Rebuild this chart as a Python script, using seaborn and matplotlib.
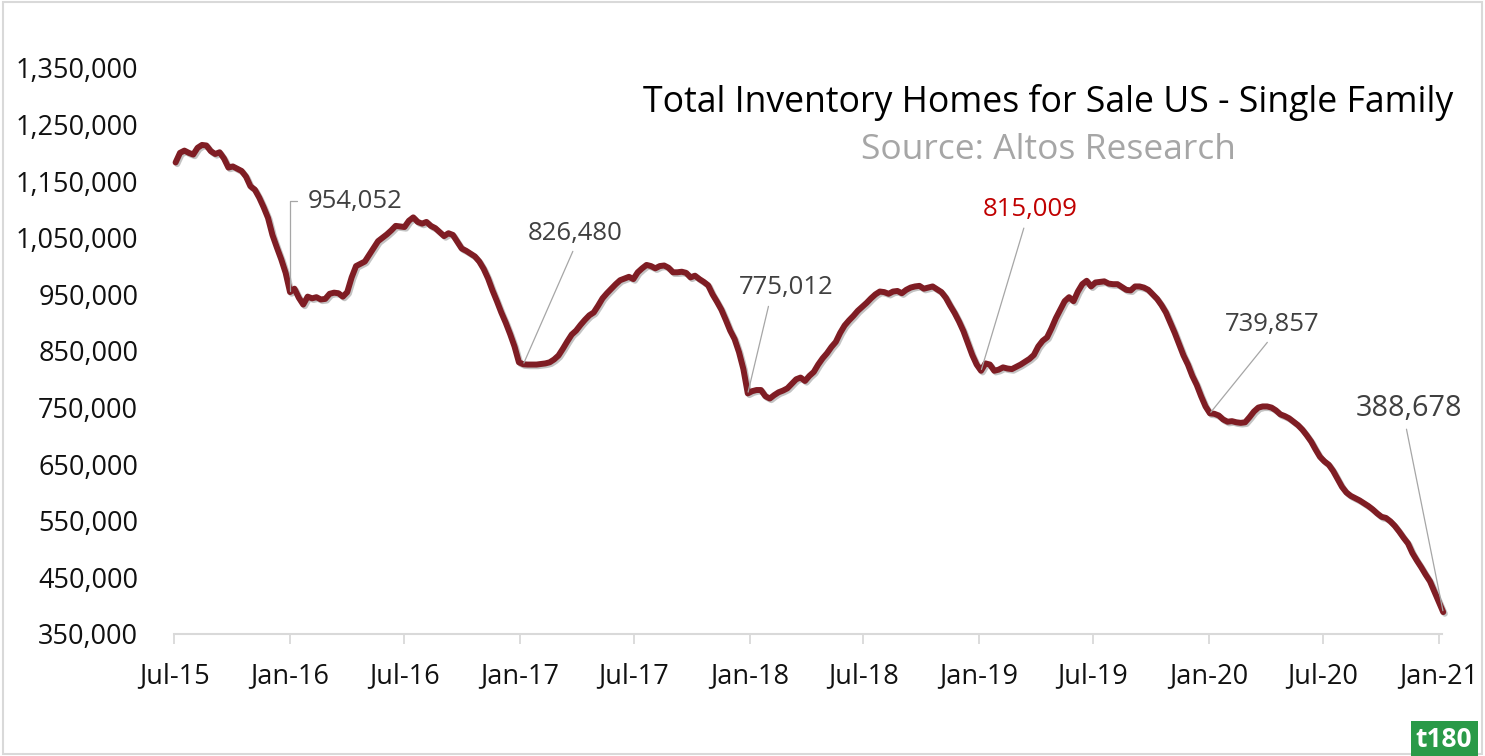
import pandas as pd
import numpy as np
import matplotlib.pyplot as plt
import matplotlib.patheffects as pe
from matplotlib.patches import Rectangle
from matplotlib.ticker import FuncFormatter
import seaborn as sns

# weekly inventory, single family homes (thousands), first week of Jul 2015 onwards
inventory_k = [
    1183, 1200, 1204, 1200, 1197, 1209, 1214, 1213, 1203, 1198, 1201, 1190, 1174,
    1176, 1172, 1168, 1158, 1141, 1135, 1121, 1104, 1085, 1055, 1033, 1012, 988,
    954.052, 960, 944, 932, 946, 943, 945, 941, 942, 951, 953, 952, 946, 954, 980,
    1000, 1004, 1008, 1020, 1032, 1044, 1050, 1056, 1063, 1071, 1070, 1069, 1080,
    1086, 1078, 1075, 1078, 1071, 1067, 1060, 1053, 1058, 1055, 1043, 1031, 1027,
    1022, 1017, 1008, 995, 978, 957, 938, 918, 900, 880, 858, 830,
    826.480, 826, 826, 826, 827, 828, 830, 835, 842, 854, 867, 879, 886, 896, 905,
    913, 918, 930, 943, 952, 960, 968, 975, 978, 981, 977, 989, 996, 1002, 1000,
    996, 1000, 1001, 997, 989, 989, 990, 988, 980, 983, 977, 972, 966, 950, 937,
    923, 905, 886, 871, 848, 818,
    775.012, 779, 781, 781, 770, 766, 772, 777, 780, 784, 792, 800, 803, 797, 806,
    813, 826, 837, 846, 857, 866, 882, 895, 904, 912, 921, 928, 935, 943, 950, 955,
    954, 951, 955, 956, 952, 958, 962, 964, 965, 960, 962, 964, 959, 954, 944, 930,
    917, 902, 885, 864, 843, 826,
    815.009, 828, 826, 815, 817, 821, 819, 818, 822, 826, 831, 836, 843, 858, 868,
    874, 890, 908, 923, 938, 945, 938, 955, 968, 974, 964, 971, 972, 973, 969, 968,
    968, 963, 958, 957, 964, 964, 962, 958, 950, 942, 931, 918, 900, 882, 862, 842,
    826, 806, 790, 770, 752,
    739.857, 739, 736, 729, 725, 726, 724, 723, 724, 733, 743, 750, 752, 752, 750,
    745, 738, 735, 731, 725, 719, 711, 701, 690, 676, 663, 655, 649, 638, 624, 610,
    600, 594, 590, 586, 581, 576, 570, 563, 557, 555, 549, 541, 531, 520, 510, 493,
    480, 468, 455, 443, 425, 407, 388.678,
]
start_week = "2015-07-03"

tick_dates = ["2015-07-01", "2016-01-01", "2016-07-01", "2017-01-01", "2017-07-01",
              "2018-01-01", "2018-07-01", "2019-01-01", "2019-07-01", "2020-01-01",
              "2020-07-01", "2021-01-01"]
tick_labels = ["Jul-15", "Jan-16", "Jul-16", "Jan-17", "Jul-17", "Jan-18",
               "Jul-18", "Jan-19", "Jul-19", "Jan-20", "Jul-20", "Jan-21"]
y_ticks = [350000, 450000, 550000, 650000, 750000, 850000, 950000,
           1050000, 1150000, 1250000, 1350000]

# labelled points: data index, colour
callouts = [26, 79, 130, 183, 235, 288]
callout_colors = ["#404040", "#404040", "#404040", "#c00000", "#404040", "#404040"]

df = pd.DataFrame({
    "week": pd.date_range(start_week, periods=len(inventory_k), freq="7D"),
    "homes": np.array(inventory_k) * 1000,
})

sns.set_theme(style="white")
plt.rcParams["font.family"] = ["Open Sans", "DejaVu Sans"]

fig = plt.figure(figsize=(14.85, 7.56), dpi=100)
ax = fig.add_axes([0.1174, 0.1614, 0.8536, 0.7487])

line_fx = [pe.SimpleLineShadow(offset=(1.2, -1.2), shadow_color="#555555", alpha=0.35),
           pe.Normal()]
sns.lineplot(data=df, x="week", y="homes", ax=ax, color="#7f1d24", linewidth=4.3,
             path_effects=line_fx, clip_on=False)

ax.set_xlim(pd.Timestamp("2015-07-01"), pd.Timestamp("2021-01-06"))
ax.set_ylim(350000, 1350000)
ax.set_xticks(pd.to_datetime(tick_dates))
ax.set_xticklabels(tick_labels)
ax.set_yticks(y_ticks)
ax.yaxis.set_major_formatter(FuncFormatter(lambda v, p: f"{v:,.0f}"))
ax.set_xlabel("")
ax.set_ylabel("")

for s in ["top", "right", "left"]:
    ax.spines[s].set_visible(False)
ax.spines["bottom"].set_color("#d9d9d9")
ax.spines["bottom"].set_linewidth(1.5)
ax.tick_params(axis="x", length=7, width=1.3, color="#d9d9d9", labelsize=19.5,
               labelcolor="#111111", pad=13, bottom=True)
ax.tick_params(axis="y", length=0, labelsize=19.5, labelcolor="#111111", pad=26)

# callouts with thin grey leader lines
offsets = [(12.5, 65.5), (37.5, 85.5), (27.5, 67), (35.5, 107), (44.5, 55), (-25, 136)]
relpos = [(0, 0.5), (0.5, 0), (0.33, 0), (0.45, 0), (0.5, 0), (0.47, 0)]
sizes = [18.5, 18.5, 18.5, 18.5, 18.5, 20.8]
for k, idx in enumerate(callouts):
    d = df["week"].iloc[idx]
    v = df["homes"].iloc[idx]
    ha = "left" if k == 0 else "center"
    va = "center" if k == 0 else "bottom"
    if k == 0:
        conn = "angle,angleA=0,angleB=90,rad=0"
        shrink = 5
    else:
        conn = "arc3,rad=0"
        shrink = 2
    ax.annotate(f"{v:,.0f}", xy=(d, v), xytext=offsets[k], textcoords="offset points",
                ha=ha, va=va, fontsize=sizes[k], color=callout_colors[k],
                arrowprops=dict(arrowstyle="-", color="#a6a6a6", lw=0.9,
                                connectionstyle=conn, relpos=relpos[k],
                                shrinkA=shrink, shrinkB=1),
                annotation_clip=False)

fig.text(0.7057, 0.865, "Total Inventory Homes for Sale US - Single Family",
         ha="center", va="center", fontsize=25.7, color="#000000")
fig.text(0.7057, 0.8016, "Source: Altos Research",
         ha="center", va="center", fontsize=25.5, color="#a6a6a6")

# frame and watermark
fig.patches.append(Rectangle((0.002, 0.003), 0.996, 0.994, transform=fig.transFigure,
                             fill=False, edgecolor="#d9d9d9", linewidth=1.5))
fig.text(0.9725, 0.022, "t180", ha="center", va="center", fontsize=19,
         fontweight="bold", color="white",
         bbox=dict(boxstyle="square,pad=0.2", facecolor="#2a9a48", edgecolor="none"))

fig.savefig("out.png", dpi=100)
